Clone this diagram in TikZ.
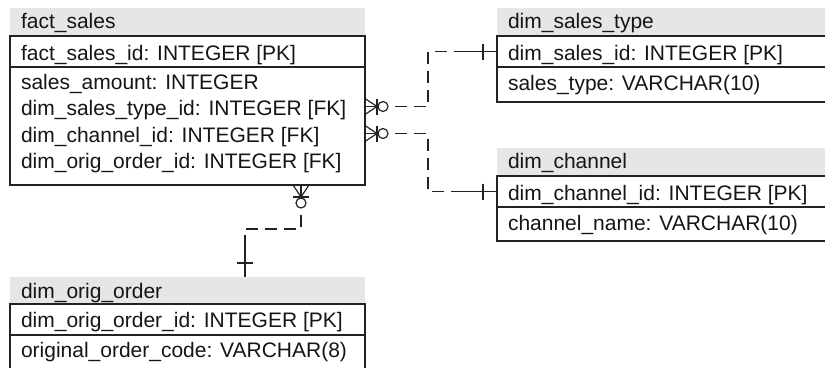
\documentclass[tikz,border=0pt]{standalone}
\usepackage{fontspec}
\setmainfont{Liberation Sans}
\usetikzlibrary{calc}
\definecolor{hdrgray}{HTML}{E6E6E6}
\definecolor{linec}{HTML}{222222}
\definecolor{txtc}{HTML}{151515}
\tikzset{
  hdr/.style={fill=hdrgray, draw=none, anchor=north west, inner sep=0pt, outer sep=0pt},
  cell/.style={draw=linec, line width=1.3pt, anchor=north west, inner sep=0pt, outer sep=0pt},
  lbl/.style={anchor=base west, inner sep=0pt, outer sep=0pt, text=txtc,
              font=\fontsize{21}{25}\selectfont},
  rel/.style={draw=linec, line width=1.2pt},
  reldash/.style={rel, dash pattern=on 12pt off 7pt},
  % zero-or-many end: crow's foot, bar and ring, drawn along +x
  crowfoot/.pic={
    \draw[rel] (0,-8) -- (12,0) -- (0,8);
    \draw[rel] (0,0) -- (13,0);
    \draw[rel] (12,-8) -- (12,8);
    \draw[rel] (18,0) circle (5);
  }
}
\begin{document}
\begin{tikzpicture}[x=1pt,y=-1pt]
\clip (0,0) rectangle (825,367);

% ---- fact_sales ----
\node[hdr,  minimum width=355pt, minimum height=28pt]  (fsH) at (10,8) {};
\node[cell, minimum width=355pt, minimum height=31pt]  (fsK) at (10,36) {};
\node[cell, minimum width=355pt, minimum height=118pt] (fsA) at (10,67) {};
\node[lbl] (fsHt) at (21,28)    {fact\_sales};
\node[lbl] (fsKt) at (21,60)    {fact\_sales\_id: INTEGER [PK]};
\node[lbl] (fsr1) at (21,89)    {sales\_amount: INTEGER};
\node[lbl] (fsr2) at (21,115)   {dim\_sales\_type\_id: INTEGER [FK]};
\node[lbl] (fsr3) at (21,142)   {dim\_channel\_id: INTEGER [FK]};
\node[lbl] (fsr4) at (21,168.5) {dim\_orig\_order\_id: INTEGER [FK]};

% ---- dim_sales_type ----
\node[hdr,  minimum width=340pt, minimum height=28pt] (stH) at (497,8) {};
\node[cell, minimum width=340pt, minimum height=31pt] (stK) at (497,36) {};
\node[cell, minimum width=340pt, minimum height=35pt] (stA) at (497,67) {};
\node[lbl] (stHt) at (508,28) {dim\_sales\_type};
\node[lbl] (stKt) at (508,60) {dim\_sales\_id: INTEGER [PK]};
\node[lbl] (str1) at (508,90) {sales\_type: VARCHAR(10)};

% ---- dim_channel ----
\node[hdr,  minimum width=340pt, minimum height=28pt] (chH) at (497,148) {};
\node[cell, minimum width=340pt, minimum height=31pt] (chK) at (497,176) {};
\node[cell, minimum width=340pt, minimum height=34pt] (chA) at (497,207) {};
\node[lbl] (chHt) at (508,168) {dim\_channel};
\node[lbl] (chKt) at (508,200) {dim\_channel\_id: INTEGER [PK]};
\node[lbl] (chr1) at (508,230) {channel\_name: VARCHAR(10)};

% ---- dim_orig_order ----
\node[hdr,  minimum width=355pt, minimum height=27pt] (doH) at (10,277) {};
\node[cell, minimum width=355pt, minimum height=31pt] (doK) at (10,304) {};
\node[cell, minimum width=355pt, minimum height=45pt] (doA) at (10,335) {};
\node[lbl] (doHt) at (21,298) {dim\_orig\_order};
\node[lbl] (doKt) at (21,327) {dim\_orig\_order\_id: INTEGER [PK]};
\node[lbl] (dor1) at (21,357) {original\_order\_code: VARCHAR(8)};

% ---- relationships ----
% fact_sales -> dim_sales_type
\coordinate (s1) at ($(fsA.east |- fsr2.base)+(0,-8.5)$);
\pic at (s1) {crowfoot};
\draw[reldash] ($(s1)+(30,0)$) -| ($(stK.west)+(-69,0)$) -- ($(stK.west)+(-42,0)$);
\draw[rel] ($(stK.west)+(-42,0)$) -- (stK.west);
\draw[rel] ($(stK.west)+(-14,-8)$) -- ++(0,16);

% fact_sales -> dim_channel
\coordinate (s2) at ($(fsA.east |- fsr3.base)+(0,-8.5)$);
\pic at (s2) {crowfoot};
\draw[reldash] ($(s2)+(30,0)$) -| ($(chK.west)+(-69,0)$) -- ($(chK.west)+(-42,0)$);
\draw[rel] ($(chK.west)+(-42,0)$) -- (chK.west);
\draw[rel] ($(chK.west)+(-14,-8)$) -- ++(0,16);

% fact_sales -> dim_orig_order
\coordinate (s3) at ($(fsA.south west)+(291,0)$);
\pic[rotate=-90] at (s3) {crowfoot};
\draw[reldash] ($(s3)+(0,30)$) |- ($(doH.north west)+(235,-48)$);
\draw[rel] ($(doH.north west)+(235,-42)$) -- ($(doH.north west)+(235,0)$);
\draw[rel] ($(doH.north west)+(227,-14)$) -- ++(16,0);
\end{tikzpicture}
\end{document}
